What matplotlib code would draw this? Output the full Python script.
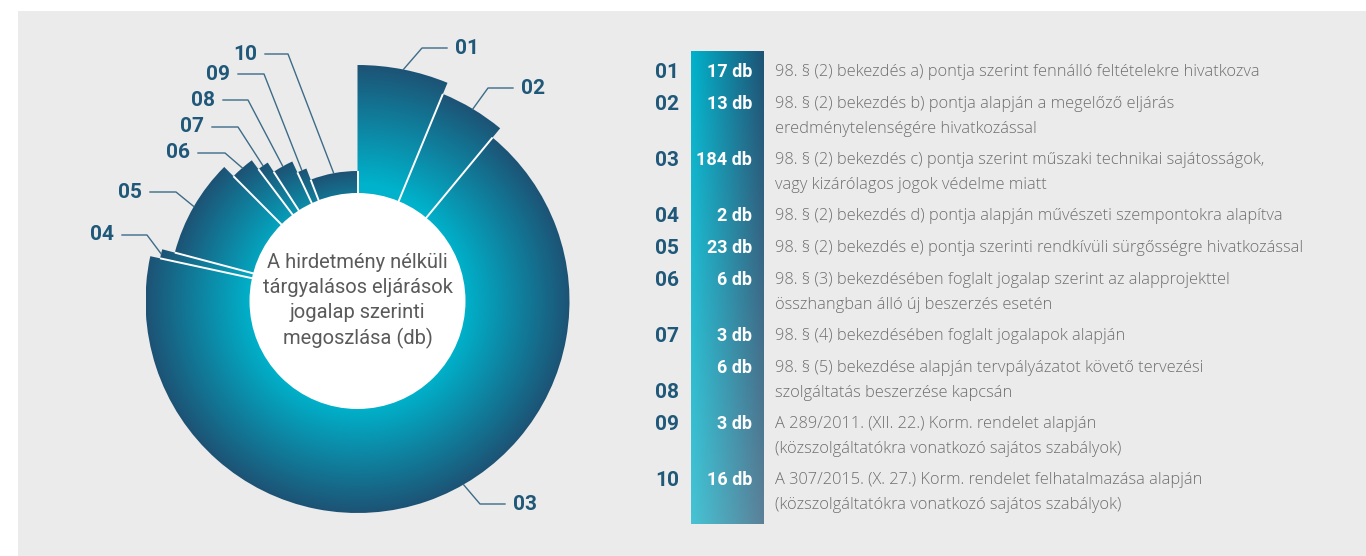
import numpy as np
import matplotlib
matplotlib.use('Agg')
import matplotlib.pyplot as plt
from matplotlib.patches import Wedge, Rectangle, Circle
from matplotlib import font_manager

codes = ['01', '02', '03', '04', '05', '06', '07', '08', '09', '10']
counts = [17, 13, 184, 2, 23, 6, 3, 6, 3, 16]
descriptions = [
    '98. § (2) bekezdés a) pontja szerint fennálló feltételekre hivatkozva',
    '98. § (2) bekezdés b) pontja alapján a megelőző eljárás\neredménytelenségére hivatkozással',
    '98. § (2) bekezdés c) pontja szerint műszaki technikai sajátosságok,\nvagy kizárólagos jogok védelme miatt',
    '98. § (2) bekezdés d) pontja alapján művészeti szempontokra alapítva',
    '98. § (2) bekezdés e) pontja szerinti rendkívüli sürgősségre hivatkozással',
    '98. § (3) bekezdésében foglalt jogalap szerint az alapprojekttel\nösszhangban álló új beszerzés esetén',
    '98. § (4) bekezdésében foglalt jogalapok alapján',
    '98. § (5) bekezdése alapján tervpályázatot követő tervezési\nszolgáltatás beszerzése kapcsán',
    'A 289/2011. (XII. 22.) Korm. rendelet alapján\n(közszolgáltatókra vonatkozó sajátos szabályok)',
    'A 307/2015. (X. 27.) Korm. rendelet felhatalmazása alapján\n(közszolgáltatókra vonatkozó sajátos szabályok)',
]
center_title = 'A hirdetmény nélküli\ntárgyalásos eljárások\njogalap szerinti\nmegoszlása (db)'

# layout (pixel units, y grows downward)
W, H = 1366, 556
cx, cy = 357.5, 301
r_hole = 108
r_outer = [236, 224, 212, 202, 189, 176, 165, 154, 142, 130]
leader_angle = [None, None, 150, None, None, None, None, None, None, None]
elbows = [(422, 48), (488, 88), (480, 504), (147, 235), (176, 192),
          (225, 153), (238, 127), (248, 100), (264, 74), (288, 54)]
leader_end = [447, 513, 505, 122, 150, 198, 212, 223, 238, 265]
row_y = [72, 104, 160, 216, 248, 280, 336, 368, 424, 480]
code_y = [72, 104, 160, 216, 248, 280, 336, 392, 424, 480]

CYAN = np.array([0, 178, 203]) / 255
DARK = np.array([29, 83, 117]) / 255
BG = np.array([235, 235, 235]) / 255
NAVY = '#1f5878'
GREY = '#6e6e6e'

names = {f.name for f in font_manager.fontManager.ttflist}
narrow = 'Liberation Sans Narrow' if 'Liberation Sans Narrow' in names else 'Roboto'
body = 'Open Sans'

fig = plt.figure(figsize=(W / 100, H / 100), dpi=100, facecolor='white')
ax = fig.add_axes([0, 0, 1, 1])
ax.set_xlim(0, W)
ax.set_ylim(H, 0)
ax.axis('off')
ax.add_patch(Rectangle((18, 11), W - 18, H - 11, facecolor=BG, edgecolor='none', zorder=0))


def clock_xy(a, r):
    t = np.radians(a)
    return cx + r * np.sin(t), cy - r * np.cos(t)


# wedges with their own radial gradient
total = sum(counts)
edges = np.concatenate([[0], np.cumsum(counts)]) / total * 360
for i, r in enumerate(r_outer):
    a1, a2 = edges[i], edges[i + 1]
    wedge = Wedge((cx, cy), r, a1 - 90, a2 - 90, facecolor='none', edgecolor='none')
    ax.add_patch(wedge)
    n = int(2 * r)
    g = np.linspace(-r, r, n)
    xx, yy = np.meshgrid(g, g)
    t = np.clip((np.hypot(xx, yy) / r - 0.5) / 0.5, 0, 1)[..., None]
    img = CYAN * (1 - t) + DARK * t
    im = ax.imshow(img, extent=(cx - r, cx + r, cy + r, cy - r), zorder=1, interpolation='bilinear')
    im.set_clip_path(wedge)

# white separators between slices
for i in range(len(counts)):
    a = edges[i]
    r = min(r_outer[i], r_outer[i - 1])
    x, y = clock_xy(a, r)
    ax.plot([cx, x], [cy, y], color='white', lw=1.4, zorder=2, solid_capstyle='butt')

ax.add_patch(Circle((cx, cy), r_hole, facecolor='white', edgecolor='none', zorder=3))
for k, line in enumerate(center_title.split('\n')):
    ax.text(cx, 262 + 25.5 * k, line, ha='center', va='center', fontsize=14.5,
            family=narrow, color='#5a5a5a', zorder=4)

# leader lines and slice codes
for i, code in enumerate(codes):
    a = leader_angle[i] if leader_angle[i] is not None else (edges[i] + edges[i + 1]) / 2
    x0, y0 = clock_xy(a, r_outer[i])
    ex, ey = elbows[i]
    ax.plot([x0, ex, leader_end[i]], [y0, ey, ey], color='#3d6c88', lw=1, zorder=2)
    right = leader_end[i] > ex
    ax.text(leader_end[i] + (8 if right else -8), ey, code, ha='left' if right else 'right',
            va='center', fontsize=15, fontweight='bold', family=narrow, color=NAVY)

# value column with gradient
bx0, bx1, by0, by1 = 691, 764, 51, 524
hx = np.linspace(0, 1, 80)[None, :, None]
vy = np.linspace(0, 1, 200)[:, None, None]
col = CYAN * (1 - hx) + DARK * hx
fade = 0.3 * vy
bar = col * (1 - fade) + BG * fade
ax.imshow(bar, extent=(bx0, bx1, by1, by0), zorder=1, interpolation='bilinear')

for i, code in enumerate(codes):
    ax.text(655, code_y[i], code, ha='left', va='center', fontsize=15, fontweight='bold',
            family=narrow, color=NAVY)
    ax.text(752, row_y[i], f'{counts[i]} db', ha='right', va='center', fontsize=13,
            fontweight='bold', family=narrow, color='white', zorder=3)
    for k, line in enumerate(descriptions[i].split('\n')):
        ax.text(775, row_y[i] + 25 * k, line, ha='left', va='center', fontsize=11.8,
                fontweight='light', family=body, color=GREY)

fig.savefig('out.png', dpi=100, facecolor='white')
